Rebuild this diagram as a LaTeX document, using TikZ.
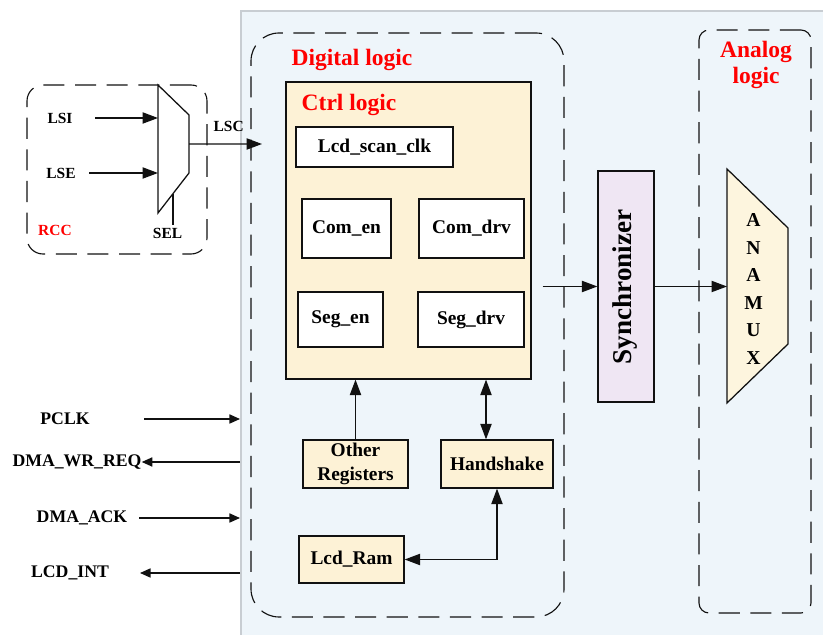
\documentclass[tikz,border=0pt]{standalone}
\usepackage{fontspec}
\setmainfont{Liberation Serif}
\usetikzlibrary{
  positioning,
  arrows.meta,
  calc,
}
\definecolor{border}{HTML}{111111}
\definecolor{panelFill}{HTML}{EEF5FA}
\definecolor{panelLine}{HTML}{C8CDD2}
\definecolor{fillCream}{HTML}{FDF2D6}
\definecolor{fillMux}{HTML}{FDF5DE}
\definecolor{fillSync}{HTML}{EFE6F3}
\definecolor{titleRed}{HTML}{FF0000}
\tikzset{
  panelbox/.style={
    rectangle, fill=panelFill, draw=panelLine, line width=1.5pt, inner sep=0pt,
  },
  blockbox/.style={
    rectangle, draw=border, fill=white, line width=0.9pt, align=center,
    font=\fontsize{13.8}{17.5}\selectfont\bfseries, inner sep=2pt,
  },
  creambox/.style={
    blockbox, fill=fillCream,
  },
  dashframe/.style={
    rectangle, draw=border, dash pattern=on 15pt off 7.5pt, line width=0.8pt,
  },
  muxline/.style={draw=border, line width=0.9pt},
  arrow/.style={-{Triangle[length=11pt,width=8pt]}, border, line width=0.9pt},
  darrow/.style={{Triangle[length=11pt,width=8pt]}-{Triangle[length=11pt,width=8pt]}, border, line width=0.9pt},
  sarrow/.style={-{Triangle[length=7.5pt,width=6.5pt]}, border, line width=0.9pt},
  title/.style={font=\fontsize{16.7}{18.5}\selectfont\bfseries, text=titleRed, align=center},
  sig/.style={font=\fontsize{12.6}{15}\selectfont\bfseries, inner sep=0pt},
  rccsig/.style={font=\fontsize{11}{13}\selectfont\bfseries, inner sep=0pt},
}

\begin{document}
\begin{tikzpicture}

  \useasboundingbox (0,0) rectangle (20.575,15.875);

  % Chip panel
  \node[panelbox, anchor=north west, minimum width=16cm, minimum height=17cm] (panel) at (6.0,15.625) {};

  % Frames
  \node[dashframe, rounded corners=0.4cm, minimum width=4.5cm, minimum height=4.225cm] (rcc) at (2.925,11.6375) {};
  \node[dashframe, rounded corners=0.7cm, minimum width=7.825cm, minimum height=14.6cm] (digital) at (10.1875,7.75) {};
  \node[dashframe, rounded corners=0.25cm, minimum width=2.8cm, minimum height=14.575cm] (analog) at (18.875,7.8375) {};
  \node[title] (digitalT) at (8.8,14.375) {Digital logic};
  \node[title] (analogT) at (18.9,14.25) {Analog\\logic};

  % RCC clock mux
  \coordinate (m1) at (3.95,13.75);
  \coordinate (m2) at (4.725,13.0);
  \coordinate (m3) at (4.725,11.55);
  \coordinate (m4) at (3.95,10.55);
  \fill[white] (m1) -- (m2) -- (m3) -- (m4) -- cycle;
  \draw[muxline] (m1) -- (m2) -- (m3) -- (m4) -- cycle;
  \node[rccsig] (lsi) at (1.5,12.925) {LSI};
  \node[rccsig] (lse) at (1.525,11.55) {LSE};
  \node[rccsig, text=titleRed] (rccT) at (1.375,10.125) {RCC};
  \node[rccsig, inner sep=2pt] (sel) at (4.19,10.04) {SEL};
  \node[rccsig] (lsc) at (5.7175,12.725) {LSC};
  \coordinate (lsiA) at (2.375,12.925);
  \coordinate (lseA) at (2.225,11.55);
  \draw[arrow] (lsiA) -- (lsiA -| m1);
  \draw[arrow] (lseA) -- (lseA -| m1);
  \coordinate (mo) at ($(m2)!0.5!(m3)$);
  \coordinate (lscEnd) at (6.55,12.275);
  \draw[arrow] (mo) -- (lscEnd);
  \coordinate (selpt) at ($(m4)!0.484!(m3)$);
  \draw[muxline] (selpt) -- (selpt |- sel.north);

  % Ctrl logic
  \node[creambox, minimum width=6.125cm, minimum height=7.425cm] (ctrl) at (10.2125,10.1125) {};
  \node[title] (ctrlT) at (8.725,13.25) {Ctrl logic};
  \node[blockbox, minimum width=3.925cm, minimum height=1.0cm] (scanclk) at (9.3625,12.2) {Lcd\_scan\_clk};
  \node[blockbox, minimum width=2.225cm, minimum height=1.475cm] (comen) at (8.6625,10.1625) {Com\_en};
  \node[blockbox, minimum width=2.625cm, minimum height=1.475cm] (comdrv) at (11.7875,10.1625) {Com\_drv};
  \node[blockbox, minimum width=2.125cm, minimum height=1.375cm] (segen) at (8.5125,7.8875) {Seg\_en};
  \node[blockbox, minimum width=2.65cm, minimum height=1.375cm] (segdrv) at (11.775,7.8875) {Seg\_drv};

  % Registers and memory
  \node[creambox, minimum width=2.625cm, minimum height=1.2cm] (oreg) at (8.8875,4.275) {Other\\Registers};
  \node[creambox, minimum width=2.8cm, minimum height=1.2cm] (hs) at (12.425,4.275) {Handshake};
  \node[creambox, minimum width=2.625cm, minimum height=1.175cm] (ram) at (8.7875,1.8875) {Lcd\_Ram};
  \draw[arrow] (oreg.north) -- (oreg.north |- ctrl.south);
  \draw[darrow] ([xshift=-0.275cm]hs.north) -- ([xshift=-0.275cm]hs.north |- ctrl.south);
  \draw[darrow] (hs.south) |- (ram.east);

  % Synchronizer and analog mux
  \node[blockbox, fill=fillSync, minimum width=1.4cm, minimum height=5.775cm] (sync) at (15.65,8.7125) {};
  \node[rotate=90, font=\fontsize{19.3}{22}\selectfont\bfseries] (syncT) at (15.62,8.7) {Synchronizer};
  \coordinate (a1) at (18.175,11.65);
  \coordinate (a2) at (19.7,10.175);
  \coordinate (a3) at (19.7,7.275);
  \coordinate (a4) at (18.175,5.8);
  \fill[fillMux] (a1) -- (a2) -- (a3) -- (a4) -- cycle;
  \draw[muxline] (a1) -- (a2) -- (a3) -- (a4) -- cycle;
  \node[font=\fontsize{14}{19.6}\selectfont\bfseries, align=center] (anamux) at (18.84,8.65) {A\\N\\A\\M\\U\\X};
  \draw[arrow, shorten <=0.275cm] (ctrl.east |- sync.west) -- (sync.west);
  \draw[arrow] (sync.east) -- (sync.east -| a1);

  % Bus signals
  \node[sig] (pclk) at (1.625,5.4) {PCLK};
  \node[sig] (wrreq) at (1.925,4.325) {DMA\_WR\_REQ};
  \node[sig] (ack) at (2.05,2.925) {DMA\_ACK};
  \node[sig] (lcdint) at (1.75,1.55) {LCD\_INT};
  \coordinate (pclkA) at (3.6,5.4);
  \coordinate (ackA) at (3.475,2.925);
  \coordinate (intA) at (3.5,1.55);
  \draw[sarrow] (pclkA) -- (pclkA -| panel.west);
  \draw[sarrow] (wrreq.east -| panel.west) -- (wrreq.east);
  \draw[sarrow] (ackA) -- (ackA -| panel.west);
  \draw[sarrow] (intA -| panel.west) -- (intA);

\end{tikzpicture}
\end{document}
